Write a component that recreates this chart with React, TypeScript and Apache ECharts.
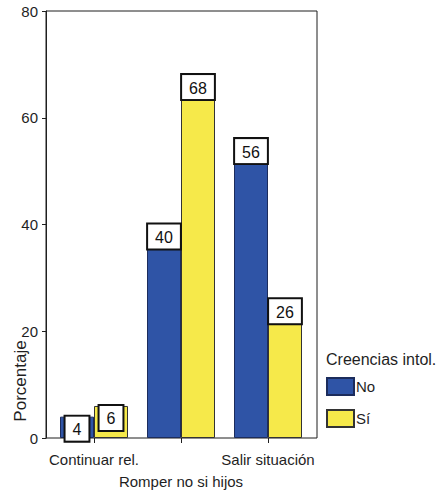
import React, { useEffect, useRef } from "react";
import * as echarts from "echarts";

const categories = ["Continuar rel.", "Romper no si hijos", "Salir situación"];
const seriesNames = ["No", "Sí"];
const valuesNo = [4, 40, 56];
const valuesSi = [6, 68, 26];
const yTicks = { min: 0, max: 80, interval: 20 };

const FONT = "'Liberation Sans', Arial, Helvetica, sans-serif";
const INK = "#1f1f1f";

export default function App() {
  const ref = useRef<HTMLDivElement>(null);

  useEffect(() => {
    if (!ref.current) return;
    const chart = echarts.init(ref.current, undefined, { renderer: "svg" });

    const barLabel = {
      show: true,
      position: "insideTop",
      distance: 0,
      formatter: "{c}",
      backgroundColor: "#ffffff",
      borderColor: "#111111",
      borderWidth: 2,
      padding: [5, 7, 3, 7],
      fontSize: 16,
      fontFamily: FONT,
      color: "#111111",
    };

    chart.setOption({
      animation: false,
      textStyle: { fontFamily: FONT, color: INK },
      title: {
        text: "Creencias intol.",
        left: 326,
        top: 351,
        padding: 0,
        textStyle: { fontSize: 16, fontWeight: "normal", color: INK, fontFamily: FONT },
      },
      legend: {
        orient: "vertical",
        left: 326,
        top: 377,
        padding: 0,
        itemWidth: 27,
        itemHeight: 17,
        itemGap: 13,
        icon: "rect",
        data: seriesNames,
        textStyle: { fontSize: 15, color: INK, fontFamily: FONT, padding: [12, 0, 0, -3] },
      },
      grid: [
        {
          left: 46,
          top: 11,
          width: 271,
          height: 427,
          show: true,
          borderColor: INK,
          borderWidth: 1,
          backgroundColor: "transparent",
        },
        { left: 50.5, top: 11, width: 261, height: 427 },
      ],
      xAxis: [
        { gridIndex: 0, type: "value", show: false, min: 0, max: 1 },
        {
          gridIndex: 1,
          type: "category",
          data: categories,
          axisLine: { show: false },
          axisTick: { show: true, alignWithLabel: true, length: 5, lineStyle: { color: INK } },
          axisLabel: {
            interval: 0,
            margin: 10,
            fontSize: 15,
            lineHeight: 22,
            color: INK,
            fontFamily: FONT,
            formatter: (v: string, i: number) => (i === 1 ? "\n" + v : v),
          },
        },
      ],
      yAxis: [
        {
          gridIndex: 0,
          type: "value",
          min: yTicks.min,
          max: yTicks.max,
          interval: yTicks.interval,
          axisLine: { show: true, lineStyle: { color: INK, width: 1 } },
          axisTick: { show: true, length: 4, lineStyle: { color: INK } },
          splitLine: { show: false },
          axisLabel: { margin: 8, fontSize: 15, color: INK, fontFamily: FONT },
        },
        { gridIndex: 1, type: "value", min: yTicks.min, max: yTicks.max, show: false },
      ],
      graphic: [
        {
          type: "text",
          x: 20,
          y: 381,
          rotation: Math.PI / 2,
          style: {
            text: "Porcentaje",
            fontSize: 17,
            fontFamily: FONT,
            fill: INK,
            align: "center",
            verticalAlign: "middle",
          },
        },
      ],
      series: [
        {
          name: seriesNames[0],
          type: "bar",
          xAxisIndex: 1,
          yAxisIndex: 1,
          data: valuesNo,
          barWidth: 34,
          barGap: "0%",
          itemStyle: { color: "#2f54a6", borderColor: "#1c2c5c", borderWidth: 1 },
          label: barLabel,
        },
        {
          name: seriesNames[1],
          type: "bar",
          xAxisIndex: 1,
          yAxisIndex: 1,
          data: valuesSi,
          barWidth: 34,
          barGap: "0%",
          itemStyle: { color: "#f6e94a", borderColor: "#333333", borderWidth: 1 },
          label: barLabel,
        },
      ],
    });

    return () => chart.dispose();
  }, []);

  return <div ref={ref} style={{ width: 440, height: 492, position: "absolute", left: 0, top: 0 }} />;
}
